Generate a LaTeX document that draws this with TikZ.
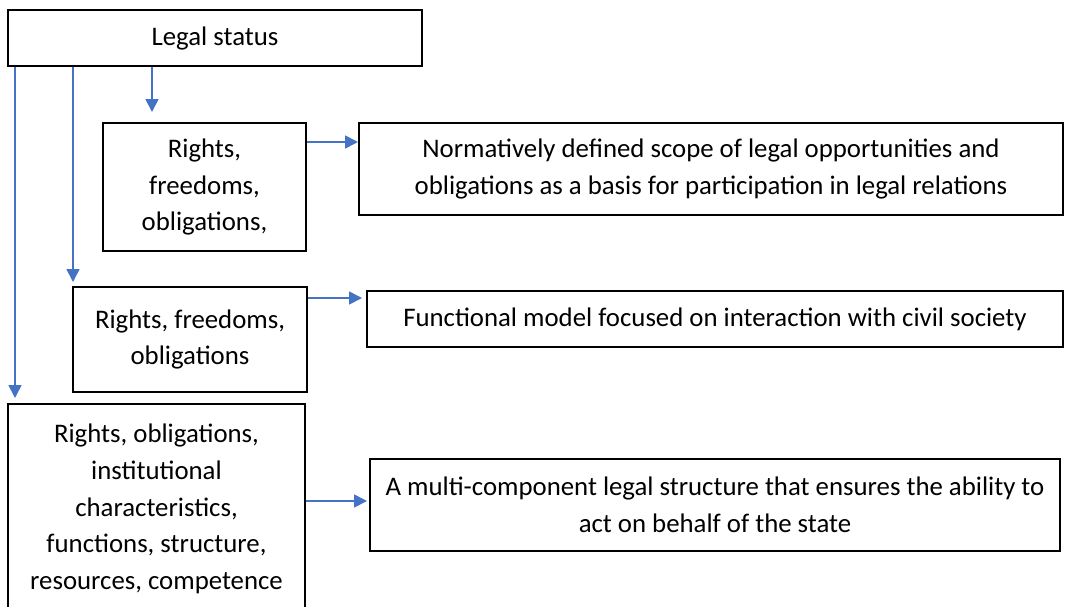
\documentclass[tikz,border=0pt]{standalone}
\usepackage{fontspec}
\setmainfont{Carlito}
\usetikzlibrary{arrows.meta}
\definecolor{linkblue}{HTML}{4472C4}

\begin{document}
\begin{tikzpicture}[
    x = 0.5pt,
    y = -0.5pt,
    font = \fontsize{13.4pt}{18.4pt}\selectfont,
    box/.style = {draw, line width=1pt, rectangle, align=center,
      inner sep=0pt},
    link/.style = {draw=linkblue, line width=0.85pt,
      -{Triangle[length=6.5pt, width=6.5pt]}},
    ]
    \useasboundingbox (0,0) rectangle (1065,606);
    \clip (0,0) rectangle (1065,606);
    % top block
    \node[box, minimum width=207pt, minimum height=28pt] (legal)
    at (215,38) {Legal status};
    % left column
    \node[box, minimum width=101.5pt, minimum height=64pt] (rights)
    at (204.5,187) {Rights,\\ freedoms,\\ obligations,};
    \node[box, minimum width=117pt, minimum height=52.5pt] (freedoms)
    at (190,339.5) {Rights, freedoms,\\ obligations};
    \node[box, minimum width=148.5pt, minimum height=105pt] (competence)
    at (156.5,509) {Rights, obligations,\\ institutional\\ characteristics,\\
      functions, structure,\\ resources, competence};
    % right column
    \node[box, minimum width=352pt, minimum height=46pt] (scope)
    at (711,169) {Normatively defined scope of legal opportunities and\\
      obligations as a basis for participation in legal relations};
    \node[box, minimum width=348pt, minimum height=28pt] (model)
    at (715,319) {Functional model focused on interaction with civil society};
    \node[box, minimum width=345pt, minimum height=46pt] (structure)
    at (715,505) {A multi-component legal structure that ensures the ability to\\
      act on behalf of the state};
    % down arrows
    \draw[link, shorten > = 2.5pt]
    ([xshift=4pt]legal.south west) -- ([xshift=4pt]legal.south west |- competence.north);
    \draw[link, shorten > = 2pt]
    ([xshift=33pt]legal.south west) -- ([xshift=33pt]legal.south west |- freedoms.north);
    \draw[link, shorten > = 5pt]
    ([xshift=72.5pt]legal.south west) -- ([xshift=72.5pt]legal.south west |- rights.north);
    % side arrows
    \draw[link]
    ([yshift=-10pt]rights.north east) -- ([yshift=-10pt]scope.north west);
    \draw[link, shorten > = 2pt]
    ([yshift=-6pt]freedoms.north east) -- ([yshift=-6pt]freedoms.north east -| model.west);
    \draw[link, shorten > = 1pt]
    ([yshift=2pt]competence.east |- structure.west) -- ([yshift=2pt]structure.west);
  \end{tikzpicture}
\end{document}
